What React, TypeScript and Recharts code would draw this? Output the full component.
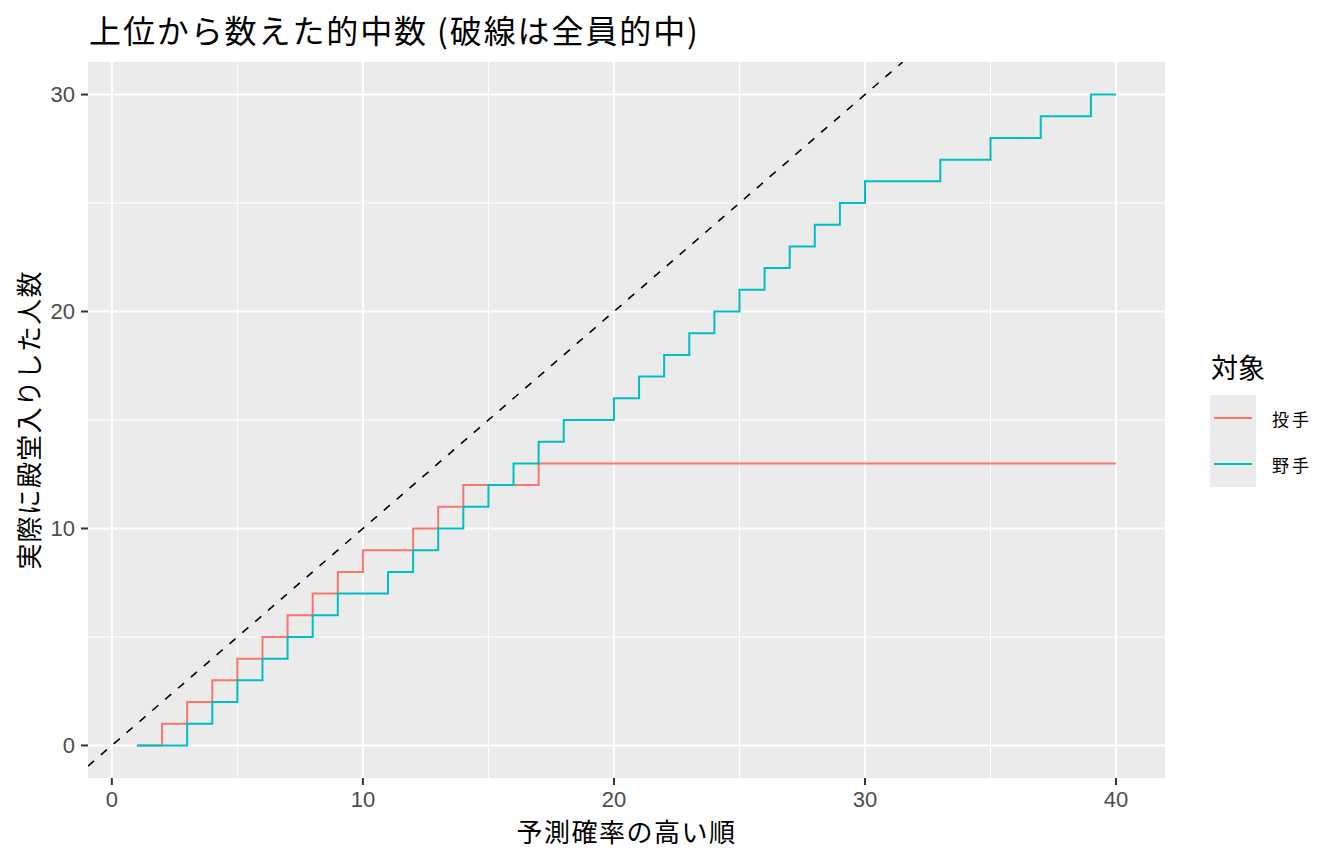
import { CartesianGrid, Label, Line, LineChart, ReferenceLine, XAxis, YAxis } from 'recharts';

const FONT = '"Noto Sans CJK JP", "Noto Sans", sans-serif';
const NUM_FONT = '"Liberation Sans", Arial, sans-serif';

// 予測確率の高い順 (1..40)
const ranks = [
  1, 2, 3, 4, 5, 6, 7, 8, 9, 10, 11, 12, 13, 14, 15, 16, 17, 18, 19, 20,
  21, 22, 23, 24, 25, 26, 27, 28, 29, 30, 31, 32, 33, 34, 35, 36, 37, 38, 39, 40,
];

// 投手: 上位から数えた的中数
const pitcherHits = [
  0, 1, 2, 3, 4, 5, 6, 7, 8, 9, 9, 10, 11, 12, 12, 12, 13, 13, 13, 13,
  13, 13, 13, 13, 13, 13, 13, 13, 13, 13, 13, 13, 13, 13, 13, 13, 13, 13, 13, 13,
];

// 野手: 上位から数えた的中数
const fielderHits = [
  0, 0, 1, 2, 3, 4, 5, 6, 7, 7, 8, 9, 10, 11, 12, 13, 14, 15, 15, 16,
  17, 18, 19, 20, 21, 22, 23, 24, 25, 26, 26, 26, 27, 27, 28, 28, 29, 29, 30, 30,
];

const xTicks = [0, 10, 20, 30, 40];
const yTicks = [0, 10, 20, 30];
const xMinor = [5, 15, 25, 35];
const yMinor = [5, 15, 25];

const series = [
  { name: '投手', color: '#F8766D', values: pitcherHits },
  { name: '野手', color: '#00BFC4', values: fielderHits },
];

const LegendBox = () => (
  <div style={{ position: 'absolute', left: 1210, top: 349, fontFamily: FONT, color: '#000' }}>
    <div style={{ fontSize: 27, lineHeight: '36px', marginLeft: 1, marginBottom: 10 }}>対象</div>
    {series.map((s) => (
      <div key={s.name} style={{ display: 'flex', alignItems: 'center', height: 46 }}>
        <div style={{ width: 46, height: 46, background: '#EBEBEB', position: 'relative' }}>
          <div style={{ position: 'absolute', left: 4, right: 4, top: 22, height: 2, background: s.color }} />
        </div>
        <span style={{ fontSize: 17, marginLeft: 16, letterSpacing: 3 }}>{s.name}</span>
      </div>
    ))}
  </div>
);

export default function App() {
  return (
    <div style={{ position: 'absolute', left: 0, top: 0, width: 1344, height: 864, background: '#fff' }}>
      <div
        style={{
          position: 'absolute',
          left: 89,
          top: 8,
          fontFamily: FONT,
          fontSize: 32,
          letterSpacing: 1.9,
          lineHeight: '42px',
          color: '#000',
          whiteSpace: 'nowrap',
        }}
      >
        上位から数えた的中数 (破線は全員的中)
      </div>
      <LineChart width={1344} height={864} margin={{ top: 62, right: 179, bottom: 27, left: 28 }}>
        <CartesianGrid fill="#EBEBEB" stroke="#FFFFFF" strokeWidth={1} horizontalValues={yMinor} verticalValues={xMinor} />
        <CartesianGrid stroke="#FFFFFF" strokeWidth={2} horizontalValues={yTicks} verticalValues={xTicks} />
        <XAxis
          dataKey="x"
          type="number"
          domain={[-0.95, 41.95]}
          ticks={xTicks}
          allowDataOverflow
          axisLine={false}
          tickLine={{ stroke: '#333333', strokeWidth: 2 }}
          tickSize={7}
          tickMargin={6}
          height={59}
          tick={{ fill: '#4D4D4D', fontSize: 22, fontFamily: NUM_FONT }}
        >
          <Label
            content={({ viewBox }: any) => (
              <text
                x={viewBox.x + viewBox.width / 2}
                y={842}
                textAnchor="middle"
                style={{ fontSize: 26, letterSpacing: 1.5, fontFamily: FONT, fill: '#000' }}
              >
                予測確率の高い順
              </text>
            )}
          />
        </XAxis>
        <YAxis
          type="number"
          domain={[-1.5, 31.5]}
          ticks={yTicks}
          allowDataOverflow
          axisLine={false}
          tickLine={{ stroke: '#333333', strokeWidth: 2 }}
          tickSize={7}
          tickMargin={6}
          width={60}
          tick={{ fill: '#4D4D4D', fontSize: 22, fontFamily: NUM_FONT }}
        >
          <Label
            content={({ viewBox }: any) => {
              const cy = viewBox.y + viewBox.height / 2;
              return (
                <text
                  x={39}
                  y={cy}
                  transform={`rotate(-90 39 ${cy})`}
                  textAnchor="middle"
                  style={{ fontSize: 26, letterSpacing: 1.2, fontFamily: FONT, fill: '#000' }}
                >
                  実際に殿堂入りした人数
                </text>
              );
            }}
          />
        </YAxis>
        <ReferenceLine
          segment={[{ x: -0.95, y: -0.95 }, { x: 31.5, y: 31.5 }]}
          stroke="#000"
          strokeWidth={1.6}
          strokeDasharray="8 9"
          ifOverflow="hidden"
        />
        {series.map((s) => (
          <Line
            key={s.name}
            name={s.name}
            data={ranks.map((r, i) => ({ x: r, y: s.values[i] }))}
            dataKey="y"
            type="stepAfter"
            stroke={s.color}
            strokeWidth={2}
            dot={false}
            activeDot={false}
            isAnimationActive={false}
          />
        ))}
      </LineChart>
      <LegendBox />
    </div>
  );
}
